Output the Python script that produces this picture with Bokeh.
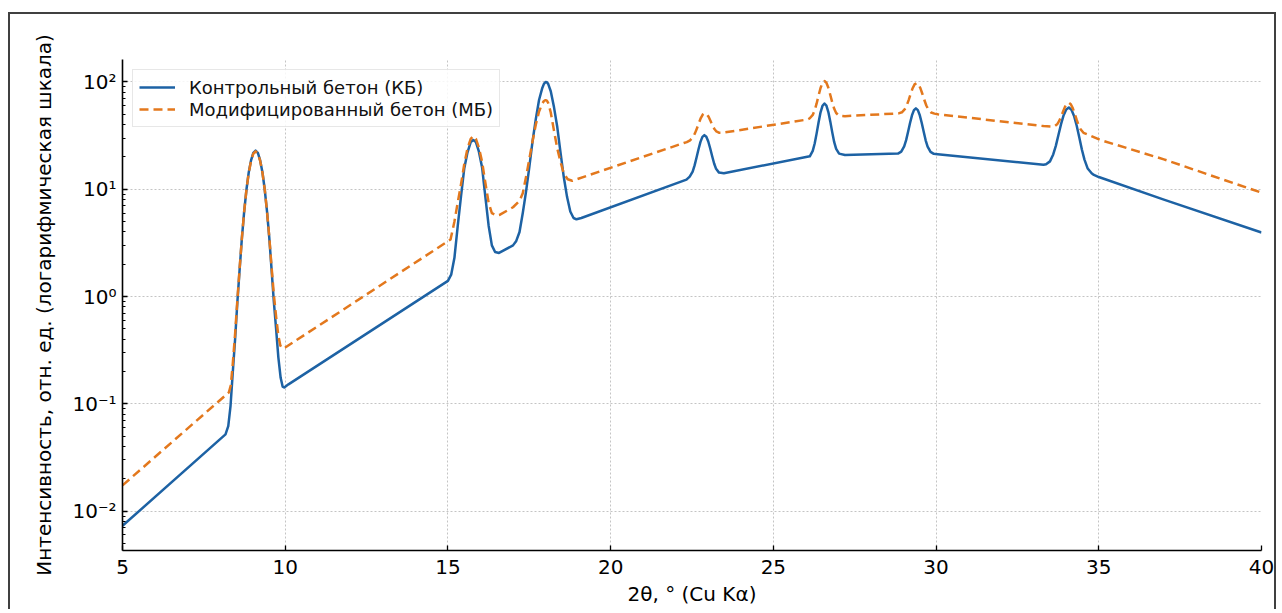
from bokeh.plotting import figure
from bokeh.models import Range1d, SingleIntervalTicker, LogTicker, CustomJSTickFormatter
from bokeh.embed import file_html
from bokeh.resources import INLINE

# ---- data ----
x_kb = [5.0, 8.165, 8.25, 8.32, 8.39, 8.46, 8.53, 8.60, 8.67, 8.74, 8.81, 8.88, 8.95, 9.02,
        9.09, 9.16, 9.23, 9.30, 9.37, 9.44, 9.51, 9.58, 9.65, 9.72, 9.79, 9.86, 9.92, 9.97, 10.1,
        15.0, 15.1, 15.2, 15.3, 15.4, 15.5, 15.6, 15.7, 15.78, 15.86, 15.95, 16.05, 16.15,
        16.25, 16.35, 16.45, 16.57,
        17.0, 17.1, 17.2, 17.3, 17.4, 17.5, 17.6, 17.7, 17.8, 17.9, 17.95, 18.0, 18.04,
        18.08, 18.16, 18.26, 18.36, 18.46, 18.56, 18.66, 18.76, 18.86, 18.95, 19.1,
        22.33, 22.43, 22.52, 22.58, 22.64, 22.70, 22.76, 22.82, 22.88, 22.94, 23.00, 23.06,
        23.12, 23.18, 23.24, 23.33, 23.48,
        26.12, 26.21, 26.27, 26.33, 26.39, 26.45, 26.51, 26.57, 26.63, 26.69, 26.75, 26.81,
        26.87, 26.93, 27.02, 27.2,
        28.83, 28.93, 29.02, 29.08, 29.14, 29.20, 29.26, 29.32, 29.38, 29.44, 29.50, 29.56,
        29.62, 29.68, 29.74, 29.83, 29.93, 30.05,
        33.3, 33.38, 33.50, 33.60, 33.68, 33.76, 33.84, 33.92, 34.00, 34.08, 34.16, 34.24,
        34.32, 34.40, 34.48, 34.56, 34.66, 34.78, 34.85, 35.0,
        37.0, 40.0]
y_kb = [0.0073, 0.052, 0.062, 0.096, 0.2, 0.4, 0.89, 1.8, 3.54, 6.26, 10, 14.4, 18.6, 21.8,
        22.9, 21.8, 18.6, 14.4, 10, 6.26, 3.54, 1.8, 0.9, 0.5, 0.27, 0.175, 0.145, 0.142, 0.152,
        1.4, 1.6, 2.3, 4.5, 8.5, 15.5, 22, 27.5, 28.8, 27.5, 22.5, 16, 8.5,
        4.6, 3.0, 2.6, 2.55,
        3.0, 3.3, 4.0, 6.0, 9.5, 16, 28, 45, 68, 88, 96, 100, 99.5,
        96, 82, 58, 38, 22, 13, 8.5, 6.2, 5.4, 5.25, 5.4,
        12.3, 13.1, 14.6, 16.7, 19.75, 23.6, 27.65, 30.8, 31.95, 30.9, 27.9, 24,
        20.3, 17.4, 15.5, 14.3, 14.1,
        20.3, 22.8, 26.7, 33.2, 42.2, 52.1, 60, 63, 60.2, 52.4, 42.7, 33.9,
        27.5, 23.8, 21.5, 20.9,
        21.5, 22.4, 25.05, 28.7, 34.4, 41.5, 48.9, 54.6, 56.7, 54.6, 48.9, 41.5,
        34.4, 28.6, 25.0, 22.3, 21.4, 21.2,
        16.9, 17.1, 18.2, 21.1, 25.4, 32.1, 40.4, 49, 55.4, 57.8, 55, 48.2,
        39.3, 30.6, 23.5, 18.9, 15.6, 14.1, 13.6, 13.0,
        8.0, 3.96]

x_mb = [5.0, 8.27, 8.33, 8.39, 8.46, 8.53, 8.60, 8.67, 8.74, 8.81, 8.88, 8.95, 9.02, 9.09,
        9.16, 9.23, 9.30, 9.37, 9.44, 9.51, 9.58, 9.65, 9.72, 9.79, 9.85, 9.91, 10.0,
        15.08, 15.2, 15.3, 15.4, 15.5, 15.6, 15.7, 15.78, 15.86, 15.95, 16.05, 16.15, 16.25,
        16.35, 16.5, 16.6, 17.0,
        17.2, 17.3, 17.4, 17.5, 17.6, 17.7, 17.8, 17.9, 17.95, 18.0, 18.04, 18.08, 18.16,
        18.26, 18.36, 18.46, 18.56, 18.68, 18.82,
        22.25, 22.34, 22.44, 22.53, 22.59, 22.65, 22.71, 22.77, 22.83, 22.89, 22.95, 23.01,
        23.07, 23.13, 23.19, 23.25, 23.34, 23.43,
        26.05, 26.12, 26.21, 26.27, 26.33, 26.39, 26.45, 26.51, 26.57, 26.63, 26.69, 26.75,
        26.81, 26.87, 26.93, 27.02, 27.2,
        28.85, 28.95, 29.04, 29.10, 29.16, 29.22, 29.28, 29.34, 29.40, 29.46, 29.52, 29.58,
        29.64, 29.70, 29.76, 29.85, 29.95, 30.05,
        33.3, 33.63, 33.72, 33.78, 33.84, 33.90, 33.96, 34.02, 34.08, 34.14, 34.20, 34.26,
        34.32, 34.38, 34.44, 34.53, 34.7, 35.05,
        37.0, 40.0]
y_mb = [0.0174, 0.128, 0.15, 0.24, 0.45, 0.93, 1.85, 3.55, 6.26, 10, 14.3, 18.4, 21.5, 22.6,
        21.5, 18.4, 14.3, 10, 6.26, 3.6, 1.9, 1.05, 0.65, 0.43, 0.35, 0.328, 0.335,
        3.4, 5.0, 7.5, 11, 17, 24, 29.5, 31.3, 29.5, 24.5, 18, 11.5, 7.5,
        6.0, 5.7, 5.8, 6.8,
        7.8, 9.2, 13, 19, 28, 40, 53, 63, 66.5, 67.7, 67, 64, 52,
        35, 24, 18, 14, 12.4, 12.0,
        27, 27.5, 28.6, 30.7, 33.2, 36.9, 41.3, 46.1, 49.7, 51.3, 50.3, 47.4,
        43.2, 39.5, 36.4, 34.6, 33.6, 33.6,
        44.7, 45.9, 49.3, 54.5, 63.1, 74.8, 87.8, 98.1, 102, 98.4, 88.3, 75.7,
        64.4, 56.2, 51.4, 48.5, 48,
        51, 52.2, 55.8, 60.7, 68.2, 77.6, 87.5, 95, 97.8, 95, 87.3, 77.3,
        67.9, 60.4, 55.5, 51.9, 50.7, 50,
        38.8, 38.4, 40.3, 43.1, 47.3, 52.8, 58.6, 62.8, 64, 62, 57, 50.6,
        44.5, 39.6, 36.3, 33.6, 32, 28.8,
        19, 9.3]

label_kb = "Контрольный бетон (КБ)"
label_mb = "Модифицированный бетон (МБ)"
x_title = "2θ, ° (Cu Kα)"
y_title = "Интенсивность, отн. ед. (логарифмическая шкала)"

FONT = "DejaVu Sans"
BLUE = "#1d62a4"
ORANGE = "#e3781d"

p = figure(width=1268, height=597, y_axis_type="log",
           x_range=Range1d(5, 40), y_range=Range1d(0.0043, 162),
           output_backend="svg", toolbar_location=None,
           min_border_left=112, min_border_right=17, min_border_top=45, min_border_bottom=61)
p.margin = (12, 0, 0, 8)
p.styles = {"border-top": "2px solid #404040", "border-left": "2px solid #404040",
            "border-right": "2px solid #404040"}
p.outline_line_color = None
p.background_fill_color = "white"
p.border_fill_color = "white"

p.line(x_kb, y_kb, line_color=BLUE, line_width=2.5, line_join="round", legend_label=label_kb)
p.line(x_mb, y_mb, line_color=ORANGE, line_width=2.5, line_dash="9 5", line_join="round",
       legend_label=label_mb)

# axes
p.xaxis.ticker = SingleIntervalTicker(interval=5, num_minor_ticks=0)
p.yaxis.ticker = LogTicker(num_minor_ticks=10)
p.yaxis.formatter = CustomJSTickFormatter(code="""
const e = Math.round(Math.log10(tick));
const sup = {"-":"\u207b","0":"\u2070","1":"\u00b9","2":"\u00b2","3":"\u00b3","4":"\u2074",
             "5":"\u2075","6":"\u2076","7":"\u2077","8":"\u2078","9":"\u2079"};
return "10" + String(e).split("").map(c => sup[c]).join("");
""")
for ax in (p.xaxis[0], p.yaxis[0]):
    ax.axis_line_color = "black"
    ax.axis_line_width = 1.6
    ax.major_tick_line_color = "black"
    ax.minor_tick_line_color = "black"
    ax.major_tick_line_width = 1.3
    ax.minor_tick_line_width = 1.0
    ax.major_tick_in = 5
    ax.major_tick_out = 0
    ax.minor_tick_in = 3
    ax.minor_tick_out = 0
    ax.major_label_text_font = FONT
    ax.major_label_text_font_size = "20px"
    ax.major_label_text_color = "black"
    ax.axis_label_text_font = FONT
    ax.axis_label_text_font_size = "20px"
    ax.axis_label_text_font_style = "normal"
    ax.axis_label_text_color = "black"

p.xaxis.axis_label = x_title
p.yaxis.axis_label = y_title
p.xaxis.major_label_standoff = 9
p.xaxis.axis_label_standoff = 5
p.yaxis.major_label_standoff = 6
p.yaxis.axis_label_standoff = 13

# grid
p.xgrid.grid_line_color = "#c4c4c4"
p.ygrid.grid_line_color = "#c4c4c4"
p.xgrid.grid_line_dash = "2 2"
p.ygrid.grid_line_dash = "2 2"
p.xgrid.grid_line_width = 1
p.ygrid.grid_line_width = 1

# legend
lg = p.legend[0]
lg.location = "top_left"
lg.margin = 10
lg.padding = 6
lg.spacing = 0
lg.label_height = 22
lg.glyph_width = 36
lg.glyph_height = 22
lg.label_standoff = 14
lg.label_text_font = FONT
lg.label_text_font_size = "18px"
lg.label_text_color = "#111111"
lg.border_line_color = "#d0d0d0"
lg.border_line_width = 1
lg.background_fill_alpha = 0.85

open("out.html", "w").write(file_html(p, INLINE))
